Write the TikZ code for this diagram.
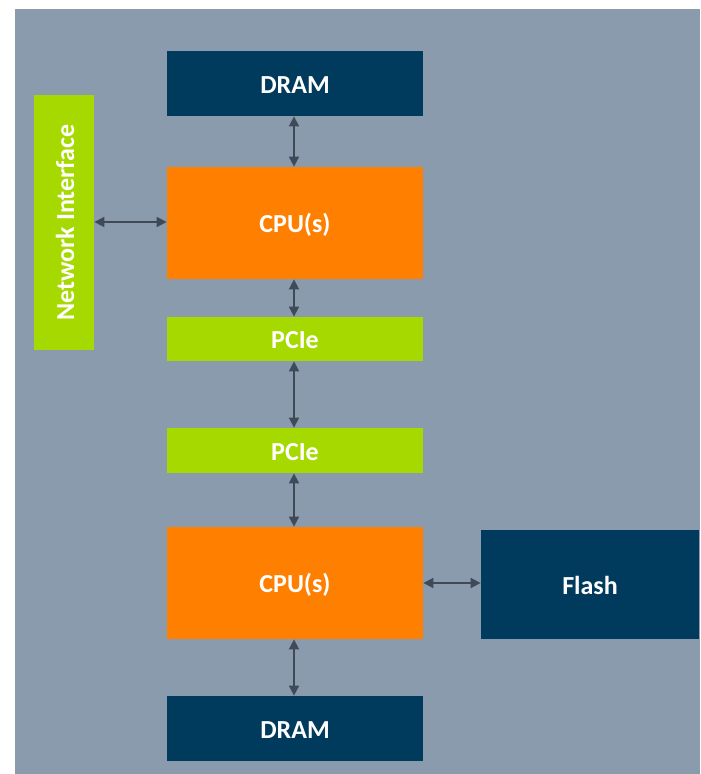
\documentclass[tikz,border=0pt]{standalone}
\usepackage{fontspec}
\setmainfont{Carlito}
\usetikzlibrary{arrows.meta}
\definecolor{bggrey}{HTML}{8A9BAD}
\definecolor{navy}{HTML}{003A5C}
\definecolor{orng}{HTML}{FF8000}
\definecolor{lgreen}{HTML}{A5D900}
\definecolor{arrowgrey}{HTML}{3F4A56}
\begin{document}
\begin{tikzpicture}[x=0.75pt,y=-0.75pt,
  box/.style={draw=none,inner sep=0pt,anchor=base,text=white,font=\fontsize{19.5}{22}\selectfont\bfseries},
  link/.style={draw=arrowgrey,line width=1.3pt,{Triangle[length=7.5pt,width=7.5pt]}-{Triangle[length=7.5pt,width=7.5pt]},shorten <=0.3pt,shorten >=0.3pt}]
\useasboundingbox (0,0) rectangle (700,774);
\fill[bggrey] (15,9) rectangle (700,774);
\fill[navy] (167,51) rectangle (423,116);
\node[box] (dram1) at (295,93.5) {DRAM};
\fill[lgreen] (34,95) rectangle (94,350);
\node[box,rotate=90] (net) at (74,222.5) {Network Interface};
\coordinate (netE) at (94,222);
\fill[orng] (167,167) rectangle (423,279);
\node[box] (cpu1) at (295,232.5) {CPU(s)};
\fill[lgreen] (167,317) rectangle (423,361);
\node[box] (pcie1) at (295,348.5) {PCIe};
\fill[lgreen] (167,428) rectangle (423,473);
\node[box] (pcie2) at (295,460) {PCIe};
\fill[orng] (167,527) rectangle (423,639);
\node[box] (cpu2) at (295,592.5) {CPU(s)};
\fill[navy] (481,530) rectangle (699,639);
\node[box] (flash) at (590,594) {Flash};
\fill[navy] (167,696) rectangle (423,761);
\node[box] (dram2) at (295,738.5) {DRAM};
% anchors on box edges
\coordinate (d1S) at (294,116);
\coordinate (c1N) at (294,167);
\coordinate (c1W) at (167,222);
\coordinate (c1S) at (294,279);
\coordinate (p1N) at (294,317);
\coordinate (p1S) at (294,361);
\coordinate (p2N) at (294,428);
\coordinate (p2S) at (294,473);
\coordinate (c2N) at (294,527);
\coordinate (c2E) at (423,583);
\coordinate (c2S) at (294,639);
\coordinate (flW) at (481,583);
\coordinate (d2N) at (294,696);
\draw[link] (d1S) -- (c1N);
\draw[link] (netE) -- (c1W);
\draw[link] (c1S) -- (p1N);
\draw[link] (p1S) -- (p2N);
\draw[link] (p2S) -- (c2N);
\draw[link] (c2E) -- (flW);
\draw[link] (c2S) -- (d2N);
\end{tikzpicture}
\end{document}
